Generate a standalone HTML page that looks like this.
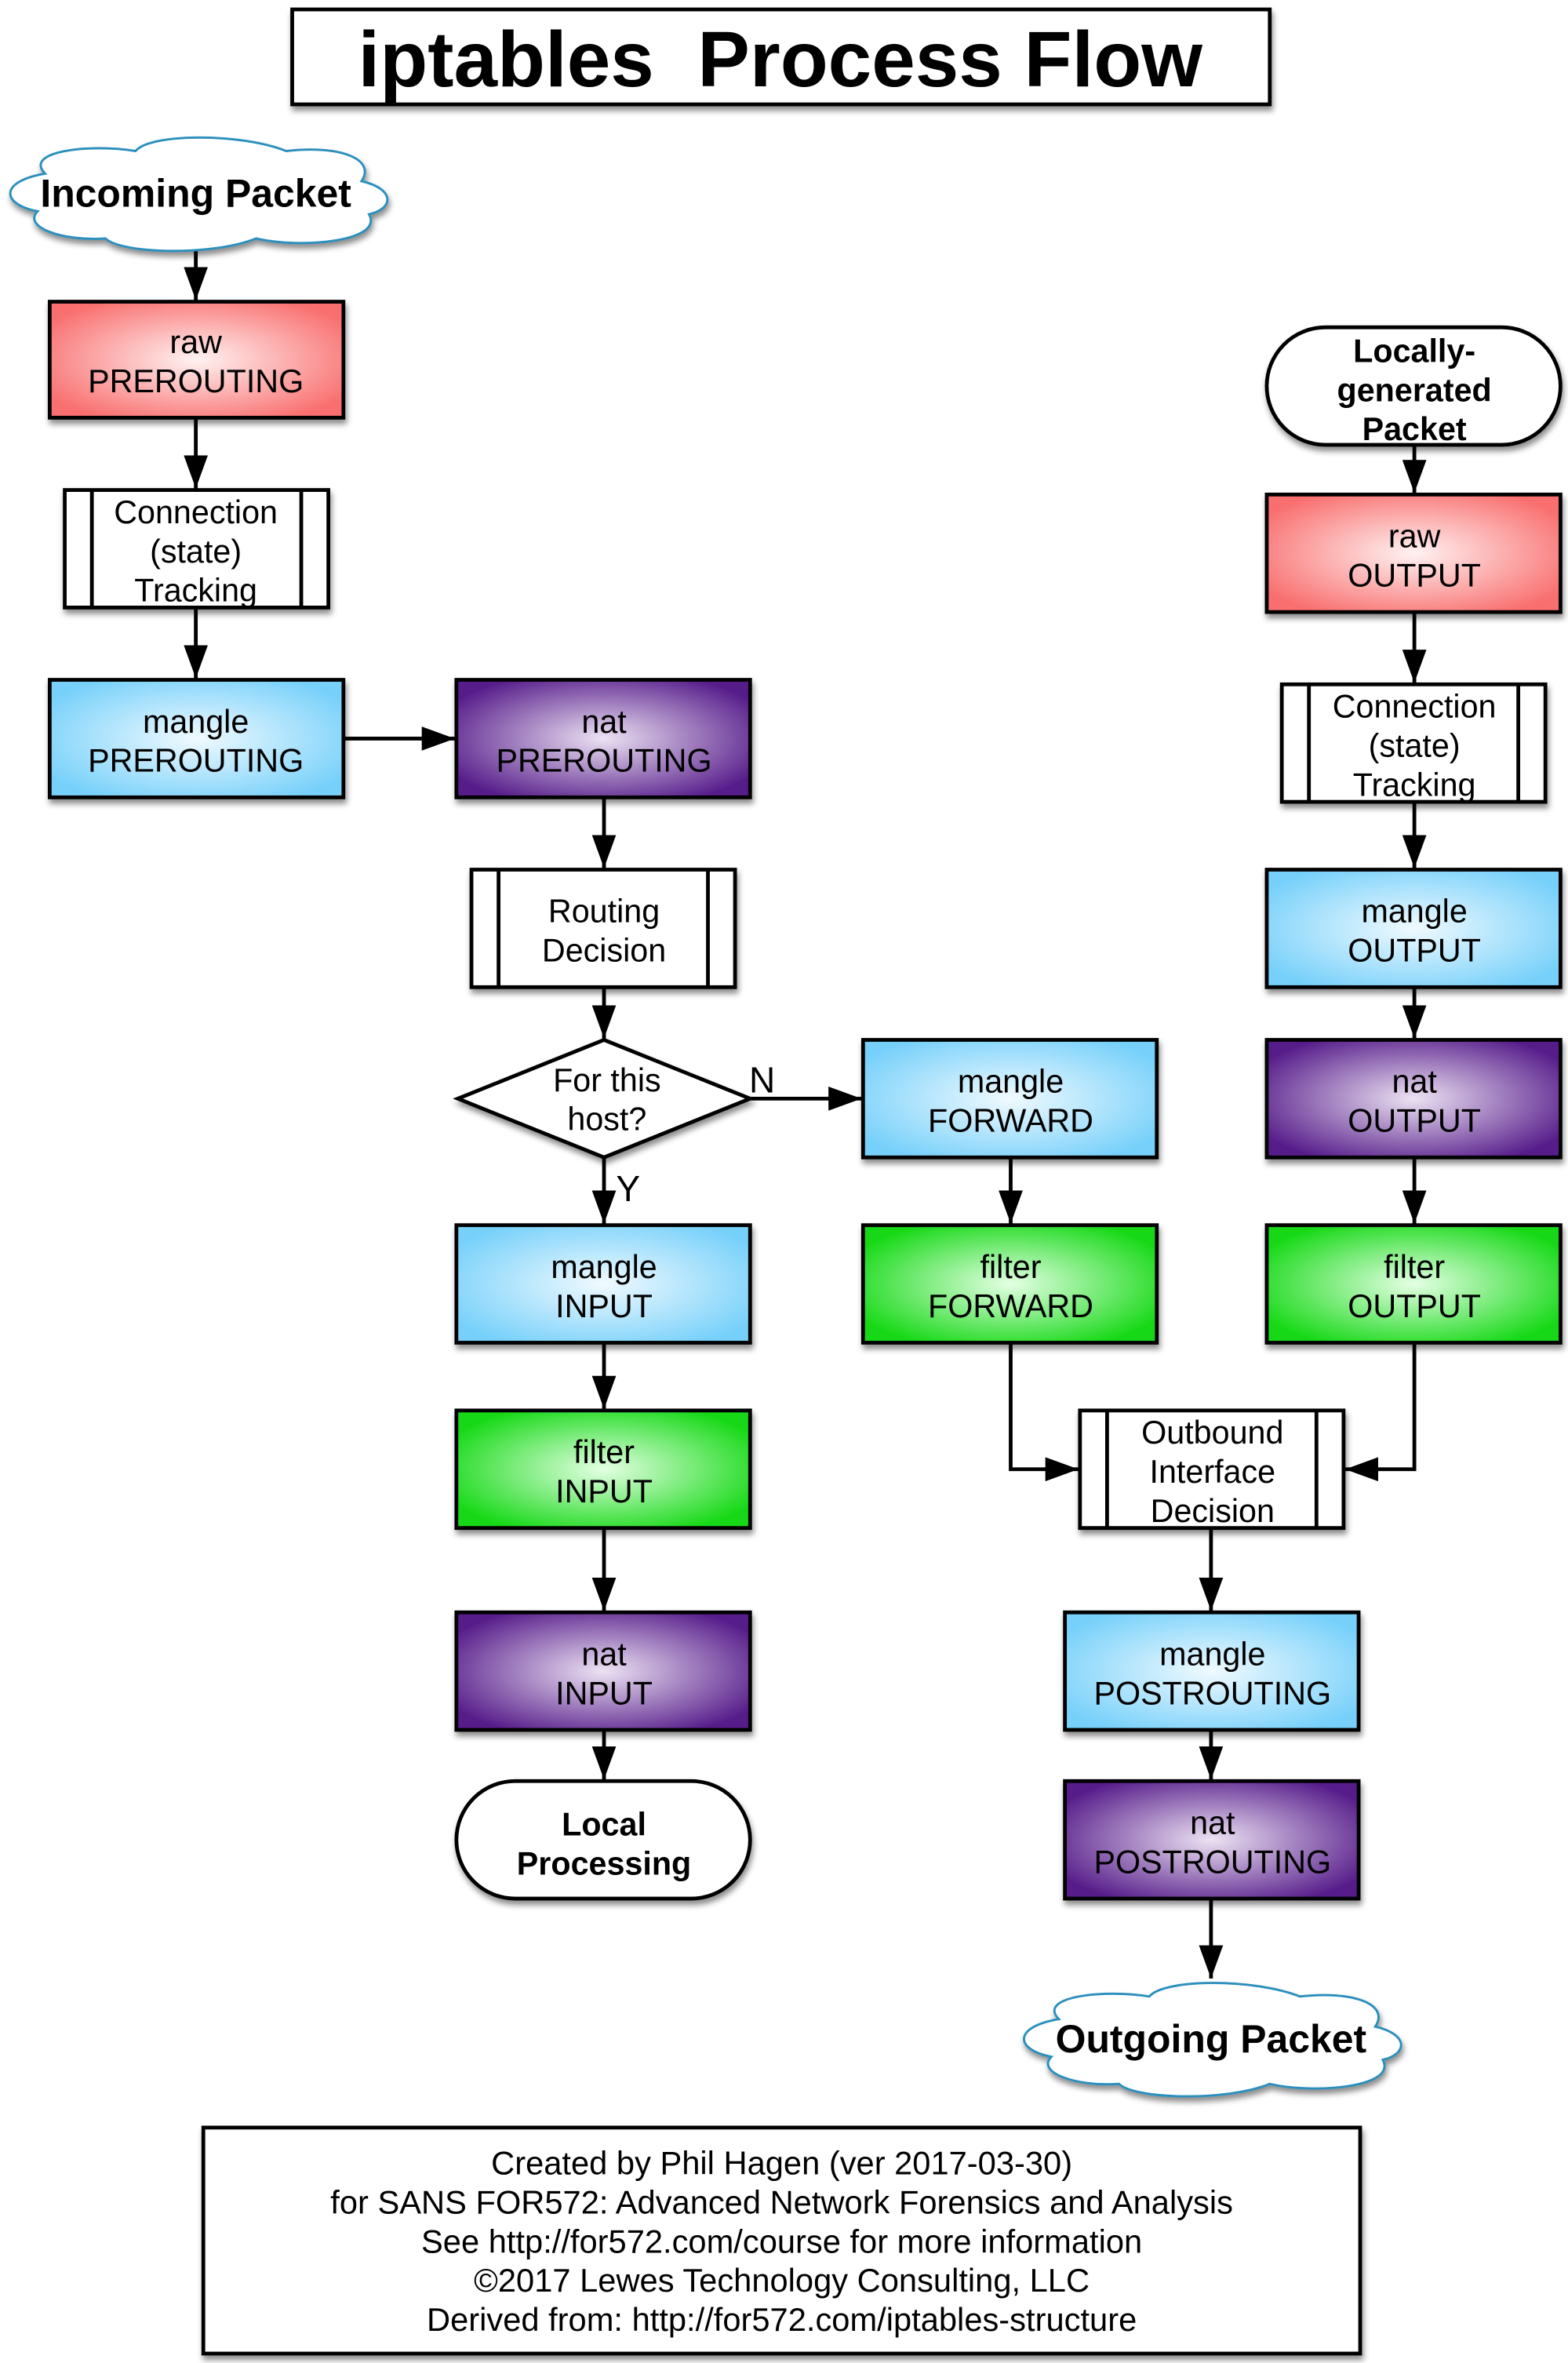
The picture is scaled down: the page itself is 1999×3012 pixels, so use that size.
<!DOCTYPE html>
<html><head><meta charset="utf-8"><style>html,body{margin:0;padding:0;background:#fff}svg{display:block}</style></head>
<body>
<svg width="1999" height="3012" viewBox="0 0 1041 1568" xmlns="http://www.w3.org/2000/svg" font-family="Liberation Sans, Arial, sans-serif">
<defs>
<radialGradient id="red" cx="50%" cy="50%" r="60%"><stop offset="0" stop-color="#fff2f2"/><stop offset="1" stop-color="#f96e6e"/></radialGradient>
<radialGradient id="blue" cx="50%" cy="50%" r="60%"><stop offset="0" stop-color="#f0faff"/><stop offset="1" stop-color="#76d0fa"/></radialGradient>
<radialGradient id="purp" cx="50%" cy="50%" r="60%"><stop offset="0" stop-color="#ece2f3"/><stop offset="1" stop-color="#561c8a"/></radialGradient>
<radialGradient id="green" cx="50%" cy="50%" r="60%"><stop offset="0" stop-color="#e4ffe4"/><stop offset="1" stop-color="#12d812"/></radialGradient>
<filter id="sh" x="-10%" y="-10%" width="125%" height="130%"><feDropShadow dx="1" dy="3" stdDeviation="2" flood-color="#000" flood-opacity="0.45"/></filter>
<marker id="a" viewBox="0 0 22 16" refX="22" refY="8" markerWidth="22" markerHeight="16" orient="auto" markerUnits="userSpaceOnUse"><path d="M0,0 L22,8 L0,16 Z" fill="#000"/></marker>
</defs>
<g stroke="#000" stroke-width="2.5" fill="none" marker-end="url(#a)">
<line x1="130" y1="166" x2="130" y2="199"/>
<line x1="130" y1="278" x2="130" y2="324"/>
<line x1="130" y1="404" x2="130" y2="450"/>
<line x1="229" y1="490" x2="302" y2="490"/>
<line x1="401" y1="530" x2="401" y2="576"/>
<line x1="401" y1="656" x2="401" y2="689"/>
<line x1="498" y1="729" x2="572" y2="729"/>
<line x1="401" y1="768" x2="401" y2="812"/>
<line x1="401" y1="892" x2="401" y2="935"/>
<line x1="401" y1="1015" x2="401" y2="1069"/>
<line x1="401" y1="1149" x2="401" y2="1181"/>
<line x1="671" y1="769" x2="671" y2="812"/>
<polyline points="671,892 671,975 716,975"/>
<polyline points="939,892 939,975 893,975"/>
<line x1="804" y1="1015" x2="804" y2="1069"/>
<line x1="804" y1="1149" x2="804" y2="1181"/>
<line x1="804" y1="1261" x2="804" y2="1313"/>
<line x1="939" y1="296" x2="939" y2="327"/>
<line x1="939" y1="407" x2="939" y2="453"/>
<line x1="939" y1="533" x2="939" y2="576"/>
<line x1="939" y1="656" x2="939" y2="689"/>
<line x1="939" y1="769" x2="939" y2="812"/>
</g>
<rect x="194" y="6" width="649" height="63" fill="#fff" stroke="#000" stroke-width="2.5" filter="url(#sh)"/>
<text x="518" y="57" font-size="52" font-weight="bold" text-anchor="middle" xml:space="preserve">iptables  Process Flow</text>
<g fill="#fff" stroke="#2a8fbd" stroke-width="1.5" filter="url(#sh)">
<path d="M30,115 C15,100 60,95 90,100 C100,88 160,88 190,100 C225,96 250,105 240,120 C262,125 262,138 245,142 C255,160 200,165 170,158 C140,170 80,168 70,158 C40,160 15,150 25,140 C0,135 0,120 30,115 Z"/>
<path d="M703,1340 C688,1325 733,1320 763,1325 C773,1313 833,1313 863,1325 C898,1321 923,1330 913,1345 C935,1350 935,1363 918,1367 C928,1385 873,1390 843,1383 C813,1395 753,1393 743,1383 C713,1385 688,1375 698,1365 C673,1360 673,1345 703,1340 Z"/>
</g>
<g font-size="26" font-weight="bold" text-anchor="middle"><text x="130" y="137">Incoming Packet</text><text x="804" y="1362">Outgoing Packet</text></g>
<g stroke="#000" stroke-width="2.5" filter="url(#sh)">
<rect x="33" y="200" width="195" height="77" fill="url(#red)"/>
<rect x="841" y="328" width="195" height="78" fill="url(#red)"/>
<rect x="33" y="451" width="195" height="78" fill="url(#blue)"/>
<rect x="841" y="577" width="195" height="78" fill="url(#blue)"/>
<rect x="573" y="690" width="195" height="78" fill="url(#blue)"/>
<rect x="303" y="813" width="195" height="78" fill="url(#blue)"/>
<rect x="707" y="1070" width="195" height="78" fill="url(#blue)"/>
<rect x="303" y="451" width="195" height="78" fill="url(#purp)"/>
<rect x="841" y="690" width="195" height="78" fill="url(#purp)"/>
<rect x="303" y="1070" width="195" height="78" fill="url(#purp)"/>
<rect x="707" y="1182" width="195" height="78" fill="url(#purp)"/>
<rect x="573" y="813" width="195" height="78" fill="url(#green)"/>
<rect x="841" y="813" width="195" height="78" fill="url(#green)"/>
<rect x="303" y="936" width="195" height="78" fill="url(#green)"/>
<rect x="43" y="325" width="175" height="78" fill="#fff"/>
<rect x="851" y="454" width="175" height="78" fill="#fff"/>
<rect x="313" y="577" width="175" height="78" fill="#fff"/>
<rect x="717" y="936" width="175" height="78" fill="#fff"/>
<rect x="303" y="1182" width="195" height="78" rx="39" fill="#fff"/>
<rect x="841" y="217" width="195" height="78" rx="39" fill="#fff"/>
<polygon points="304,729 401,690 498,729 401,768" fill="#fff"/>
<rect x="135" y="1412" width="768" height="150" fill="#fff"/>
</g>
<g stroke="#000" stroke-width="2.5">
<line x1="61" y1="325" x2="61" y2="403"/><line x1="200" y1="325" x2="200" y2="403"/>
<line x1="869" y1="454" x2="869" y2="532"/><line x1="1008" y1="454" x2="1008" y2="532"/>
<line x1="331" y1="577" x2="331" y2="655"/><line x1="470" y1="577" x2="470" y2="655"/>
<line x1="735" y1="936" x2="735" y2="1014"/><line x1="874" y1="936" x2="874" y2="1014"/>
</g>
<g font-size="21.5" text-anchor="middle" fill="#000">
<text x="130" y="234">raw</text><text x="130" y="260">PREROUTING</text>
<text x="130" y="347">Connection</text><text x="130" y="373">(state)</text><text x="130" y="399">Tracking</text>
<text x="130" y="486">mangle</text><text x="130" y="512">PREROUTING</text>
<text x="401" y="486">nat</text><text x="401" y="512">PREROUTING</text>
<text x="401" y="612">Routing</text><text x="401" y="638">Decision</text>
<text x="403" y="724">For this</text><text x="403" y="750">host?</text>
<text x="506" y="725" font-size="24">N</text><text x="417" y="797" font-size="24">Y</text>
<text x="401" y="848">mangle</text><text x="401" y="874">INPUT</text>
<text x="401" y="971">filter</text><text x="401" y="997">INPUT</text>
<text x="401" y="1105">nat</text><text x="401" y="1131">INPUT</text>
<text x="671" y="725">mangle</text><text x="671" y="751">FORWARD</text>
<text x="671" y="848">filter</text><text x="671" y="874">FORWARD</text>
<text x="805" y="958">Outbound</text><text x="805" y="984">Interface</text><text x="805" y="1010">Decision</text>
<text x="805" y="1105">mangle</text><text x="805" y="1131">POSTROUTING</text>
<text x="805" y="1217">nat</text><text x="805" y="1243">POSTROUTING</text>
<text x="939" y="363">raw</text><text x="939" y="389">OUTPUT</text>
<text x="939" y="476">Connection</text><text x="939" y="502">(state)</text><text x="939" y="528">Tracking</text>
<text x="939" y="612">mangle</text><text x="939" y="638">OUTPUT</text>
<text x="939" y="725">nat</text><text x="939" y="751">OUTPUT</text>
<text x="939" y="848">filter</text><text x="939" y="874">OUTPUT</text>
<g font-size="21.7">
<text x="519" y="1443">Created by Phil Hagen (ver 2017-03-30)</text>
<text x="519" y="1469">for SANS FOR572: Advanced Network Forensics and Analysis</text>
<text x="519" y="1495">See http://for572.com/course for more information</text>
<text x="519" y="1521">©2017 Lewes Technology Consulting, LLC</text>
<text x="519" y="1547">Derived from: http://for572.com/iptables-structure</text>
</g>
</g>
<g font-size="21.5" font-weight="bold" text-anchor="middle">
<text x="401" y="1218">Local</text><text x="401" y="1244">Processing</text>
<text x="939" y="240">Locally-</text><text x="939" y="266">generated</text><text x="939" y="292">Packet</text>
</g>
</svg>
</body></html>
